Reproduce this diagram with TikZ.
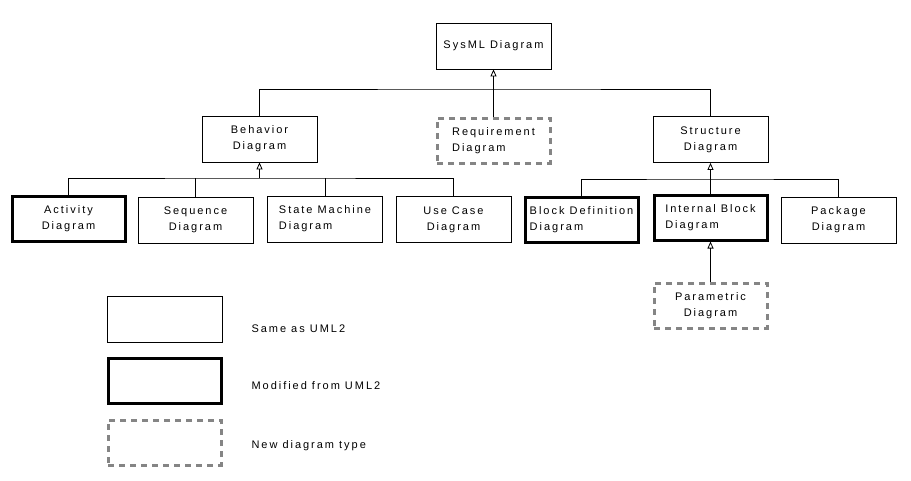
\documentclass[tikz,border=0pt]{standalone}
\usepackage{fontspec}
\setmainfont{Liberation Sans}[LetterSpace=18]
\usetikzlibrary{arrows.meta}

\begin{document}
\begin{tikzpicture}[x=1pt, y=-1pt,
    box/.style={rectangle, draw, minimum width=115pt, minimum height=46pt, align=center, inner sep=2pt, font=\fontsize{11}{16}\selectfont},
    same/.style={box, line width=0.8pt},
    modified/.style={box, line width=3pt, minimum width=113pt, minimum height=45pt},
    newtype/.style={box, draw=black!48, line width=3pt, dash pattern=on 6pt off 5pt, minimum width=113pt, minimum height=45pt},
    gen/.style={-{Triangle[open, length=7pt, width=6pt]}, line width=0.8pt},
    link/.style={line width=0.8pt},
    legtext/.style={anchor=west, font=\fontsize{11}{16}\selectfont}]
    \useasboundingbox (0,0) rectangle (911,480);

    % top level
    \node[same] (sysml) at (493.5,46) {SysML Diagram};
    \node[same] (beh) at (259.5,139) {Behavior\\Diagram};
    \node[newtype, align=left] (req) at (493.5,140.5) {Requirement\\ Diagram};
    \node[same] (struct) at (710.5,139.5) {Structure\\Diagram};

    % behavior diagrams
    \node[modified] (act) at (68.5,219) {Activity\\ Diagram};
    \node[same] (seq) at (195.5,220) {Sequence\\Diagram};
    \node[same, align=left] (sm) at (325,219) {State Machine\\ Diagram};
    \node[same] (uc) at (453.5,219.5) {Use Case\\Diagram};

    % structure diagrams
    \node[modified, align=left] (bdd) at (581.5,219.5) {Block Definition\\ Diagram};
    \node[modified, align=left] (ibd) at (710.5,217.5) {Internal Block\\ Diagram};
    \node[same] (pkg) at (838.5,220) {Package\\Diagram};
    \node[newtype] (par) at (710.5,305.5) {Parametric\\Diagram};

    % junctions
    \coordinate (tjoin) at (493.5,89);
    \coordinate (bjoin) at (259.5,178);
    \coordinate (sjoin) at (710.5,179);

    \draw[link] (beh.north) |- (tjoin) -| (struct.north);
    \draw[gen] (req.north) -- (sysml.south);
    \draw[link] (act.north) |- (bjoin) -| (uc.north);
    \draw[link] (seq.north) -- (seq.north |- bjoin);
    \draw[link] (sm.north) -- (sm.north |- bjoin);
    \draw[gen] (bjoin) -- (beh.south);
    \draw[link] (bdd.north) |- (sjoin) -| (pkg.north);
    \draw[link] (ibd.north) -- (sjoin);
    \draw[gen] (sjoin) -- (struct.south);
    \draw[gen] (par.north) -- (ibd.south);

    % legend
    \node[same] (legsame) at (164.5,319.5) {};
    \node[modified] (legmod) at (164.5,380.5) {};
    \node[newtype] (legnew) at (164.5,442.5) {};
    \node[legtext] (txtsame) at (248,329) {Same as UML2};
    \node[legtext] (txtmod) at (248,386) {Modified from UML2};
    \node[legtext] (txtnew) at (248,446) {New diagram type};
\end{tikzpicture}
\end{document}
